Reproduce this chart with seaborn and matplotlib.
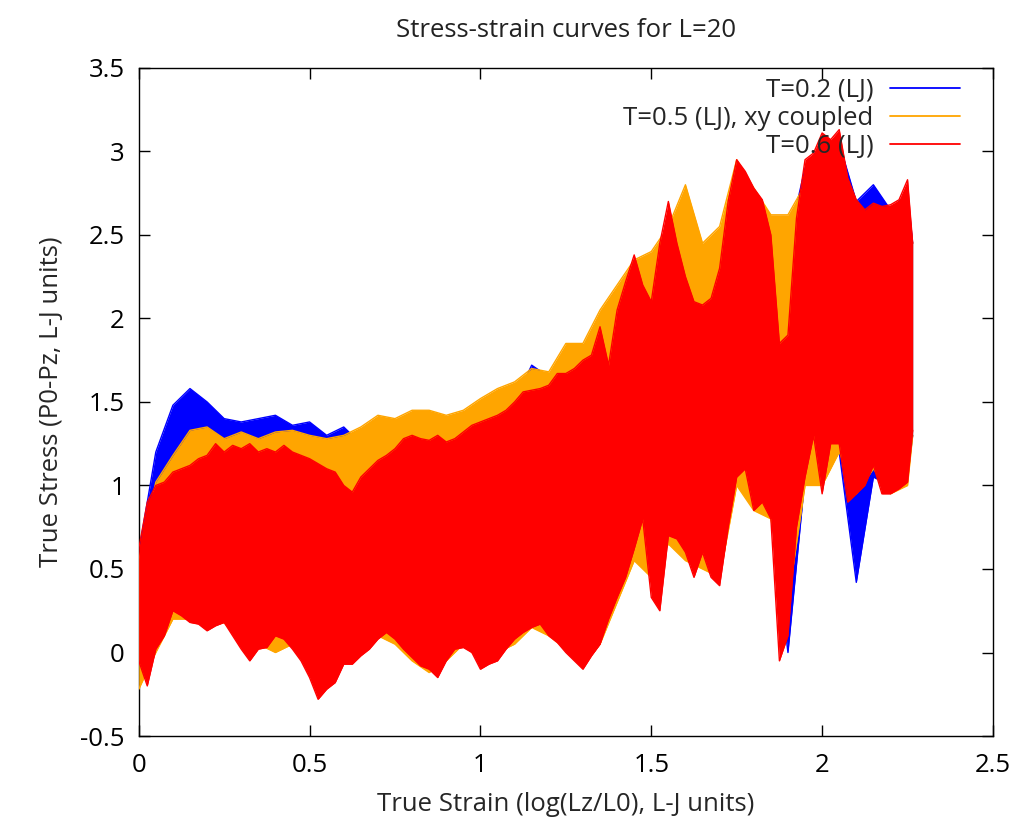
import numpy as np
import pandas as pd
import matplotlib
matplotlib.use("Agg")
import matplotlib.pyplot as plt
import seaborn as sns
from matplotlib.ticker import FuncFormatter

# ---------------- data ----------------
title = "Stress-strain curves for L=20"
xlabel = "True Strain (log(Lz/L0), L-J units)"
ylabel = "True Stress (P0-Pz, L-J units)"
labels = ["T=0.2 (LJ)", "T=0.5 (LJ), xy coupled", "T=0.6 (LJ)"]
colors = ["#0000ff", "#ffa500", "#ff0000"]
x_ticks = [0, 0.5, 1, 1.5, 2, 2.5]
y_ticks = [-0.5, 0, 0.5, 1, 1.5, 2, 2.5, 3, 3.5]

# T=0.2 (blue): upper / lower envelope of the noisy curve
blue_x = [0.00, 0.05, 0.10, 0.15, 0.20, 0.25, 0.30, 0.35, 0.40, 0.45, 0.50, 0.55,
          0.60, 0.65, 0.70, 0.75, 0.80, 0.85, 0.90, 0.95, 1.00, 1.05, 1.10, 1.15,
          1.20, 1.25, 1.30, 1.35, 1.40, 1.45, 1.50, 1.55, 1.60, 1.65, 1.70, 1.75,
          1.80, 1.85, 1.90, 1.95, 2.00, 2.05, 2.10, 2.15, 2.20, 2.25, 2.265]
blue_hi = [0.60, 1.20, 1.48, 1.58, 1.50, 1.40, 1.38, 1.40, 1.42, 1.36, 1.38, 1.30,
           1.35, 1.25, 1.30, 1.30, 1.33, 1.28, 1.30, 1.38, 1.45, 1.50, 1.50, 1.72,
           1.65, 1.65, 1.80, 1.70, 1.90, 2.10, 2.00, 2.35, 2.20, 2.05, 2.30, 2.70,
           2.65, 2.40, 2.45, 2.90, 3.05, 3.05, 2.70, 2.80, 2.65, 2.75, 2.45]
blue_lo = [0.10, 0.15, 0.35, 0.30, 0.25, 0.30, 0.20, 0.15, 0.20, 0.15, 0.10, 0.05,
           0.10, 0.10, 0.20, 0.20, 0.15, 0.10, 0.10, 0.15, 0.10, 0.10, 0.20, 0.25,
           0.20, 0.15, 0.10, 0.20, 0.45, 0.70, 0.50, 0.80, 0.75, 0.70, 0.60, 1.10,
           0.95, 0.85, 0.00, 1.05, 1.20, 1.20, 0.42, 1.05, 1.00, 1.05, 1.30]

# T=0.5 xy coupled (orange)
orange_x = blue_x
orange_hi = [0.55, 1.02, 1.18, 1.33, 1.35, 1.28, 1.32, 1.28, 1.32, 1.33, 1.30, 1.28,
             1.30, 1.35, 1.42, 1.40, 1.45, 1.45, 1.42, 1.45, 1.52, 1.58, 1.62, 1.70,
             1.68, 1.85, 1.85, 2.05, 2.20, 2.35, 2.40, 2.55, 2.80, 2.45, 2.55, 2.95,
             2.78, 2.62, 2.62, 2.80, 2.85, 2.90, 2.62, 2.65, 2.60, 2.65, 2.45]
orange_lo = [-0.22, 0.00, 0.20, 0.20, 0.15, 0.18, 0.05, 0.05, 0.00, 0.05, -0.08, -0.12,
             -0.05, 0.00, 0.10, 0.05, -0.05, -0.12, -0.05, 0.05, -0.05, 0.00, 0.05, 0.15,
             0.10, 0.02, -0.08, 0.05, 0.30, 0.55, 0.45, 0.65, 0.55, 0.50, 0.45, 1.00,
             0.85, 0.80, 0.30, 1.00, 1.00, 1.20, 0.95, 1.10, 0.95, 1.00, 1.30]

# T=0.6 (red)
red_x = [0.000, 0.025, 0.050, 0.075, 0.100, 0.125, 0.150, 0.175, 0.200, 0.225,
         0.250, 0.275, 0.300, 0.325, 0.350, 0.375, 0.400, 0.425, 0.450, 0.475,
         0.500, 0.525, 0.550, 0.575, 0.600, 0.625, 0.650, 0.675, 0.700, 0.725,
         0.750, 0.775, 0.800, 0.825, 0.850, 0.875, 0.900, 0.925, 0.950, 0.975,
         1.000, 1.025, 1.050, 1.075, 1.100, 1.125, 1.150, 1.175, 1.200, 1.225,
         1.250, 1.275, 1.300, 1.325, 1.350, 1.375, 1.400, 1.425, 1.450, 1.475,
         1.500, 1.525, 1.550, 1.575, 1.600, 1.625, 1.650, 1.675, 1.700, 1.725,
         1.750, 1.775, 1.800, 1.825, 1.850, 1.875, 1.900, 1.925, 1.950, 1.975,
         2.000, 2.025, 2.050, 2.075, 2.100, 2.125, 2.150, 2.175, 2.200, 2.225,
         2.250, 2.265]
red_hi = [0.62, 0.90, 1.00, 1.02, 1.08, 1.10, 1.12, 1.16, 1.18, 1.25,
          1.20, 1.24, 1.22, 1.25, 1.20, 1.22, 1.20, 1.24, 1.20, 1.18,
          1.16, 1.13, 1.10, 1.08, 1.00, 0.96, 1.05, 1.10, 1.15, 1.18,
          1.22, 1.28, 1.30, 1.28, 1.27, 1.30, 1.26, 1.28, 1.32, 1.36,
          1.38, 1.40, 1.42, 1.45, 1.50, 1.56, 1.57, 1.58, 1.60, 1.67,
          1.67, 1.70, 1.75, 1.78, 1.95, 1.72, 2.05, 2.22, 2.38, 2.20,
          2.10, 2.45, 2.70, 2.45, 2.25, 2.10, 2.08, 2.12, 2.30, 2.70,
          2.95, 2.88, 2.78, 2.71, 2.50, 1.85, 1.90, 2.60, 2.95, 2.99,
          3.11, 3.07, 3.13, 2.84, 2.71, 2.65, 2.69, 2.67, 2.68, 2.71,
          2.83, 2.45]
red_lo = [-0.05, -0.20, 0.02, 0.10, 0.25, 0.22, 0.18, 0.17, 0.13, 0.16,
          0.18, 0.10, 0.02, -0.05, 0.02, 0.03, 0.10, 0.08, 0.02, -0.05,
          -0.15, -0.28, -0.22, -0.18, -0.07, -0.07, -0.02, 0.02, 0.08, 0.12,
          0.08, 0.02, -0.03, -0.08, -0.10, -0.15, -0.05, 0.02, 0.03, 0.00,
          -0.10, -0.07, -0.05, 0.02, 0.08, 0.12, 0.15, 0.17, 0.10, 0.06,
          0.00, -0.05, -0.10, -0.02, 0.05, 0.20, 0.33, 0.45, 0.62, 0.80,
          0.33, 0.25, 0.70, 0.68, 0.60, 0.45, 0.60, 0.45, 0.40, 0.75,
          1.05, 1.10, 0.85, 0.90, 0.80, -0.05, 0.10, 0.75, 1.05, 1.30,
          0.95, 1.25, 1.25, 0.90, 0.95, 1.00, 1.12, 0.95, 0.95, 0.98,
          1.02, 1.33]

series = [
    (blue_x, blue_hi, blue_lo),
    (orange_x, orange_hi, orange_lo),
    (red_x, red_hi, red_lo),
]

# ---------------- figure ----------------
sns.set_theme(style="ticks")
plt.rcParams["font.family"] = ["Open Sans", "DejaVu Sans"]

fig = plt.figure(figsize=(10.2, 8.27), dpi=100)
ax = fig.add_axes([0.136, 0.110, 0.8375, 0.808])

for i, ((sx, hi, lo), lab, col) in enumerate(zip(series, labels, colors)):
    z = 2 + i
    df = pd.DataFrame({"x": sx, "hi": hi, "lo": lo})
    ax.fill_between(df["x"], df["lo"], df["hi"], color=col, linewidth=0, zorder=z)
    sns.lineplot(data=df, x="x", y="hi", ax=ax, color=col, linewidth=1.0,
                 estimator=None, sort=False, label=lab, zorder=z)
    sns.lineplot(data=df, x="x", y="lo", ax=ax, color=col, linewidth=1.0,
                 estimator=None, sort=False, legend=False, zorder=z)

ax.set_xlim(0, 2.5)
ax.set_ylim(-0.5, 3.5)
ax.set_xticks(x_ticks)
ax.set_yticks(y_ticks)
fmt = FuncFormatter(lambda v, p: ("%g" % v))
ax.xaxis.set_major_formatter(fmt)
ax.yaxis.set_major_formatter(fmt)
ax.tick_params(direction="in", length=8, width=1, top=True, right=True,
               labelsize=18.5, colors="black")
ax.tick_params(axis="x", pad=12)
ax.tick_params(axis="y", pad=10)
for sp in ax.spines.values():
    sp.set_visible(True)
    sp.set_color("black")
    sp.set_linewidth(1.0)

ax.set_title(title, fontsize=18.5, pad=22, color="#222222")
ax.set_xlabel(xlabel, fontsize=18.5, labelpad=10)
ax.set_ylabel(ylabel, fontsize=18.5, labelpad=12)

leg = ax.legend(loc="upper right", frameon=False, markerfirst=False,
                fontsize=18.5, handlelength=2.7, handletextpad=0.65,
                labelspacing=0.12, borderpad=0, borderaxespad=0,
                bbox_to_anchor=(0.961, 0.985))
for line in leg.get_lines():
    line.set_linewidth(1.3)

fig.savefig("out.png", dpi=100)
